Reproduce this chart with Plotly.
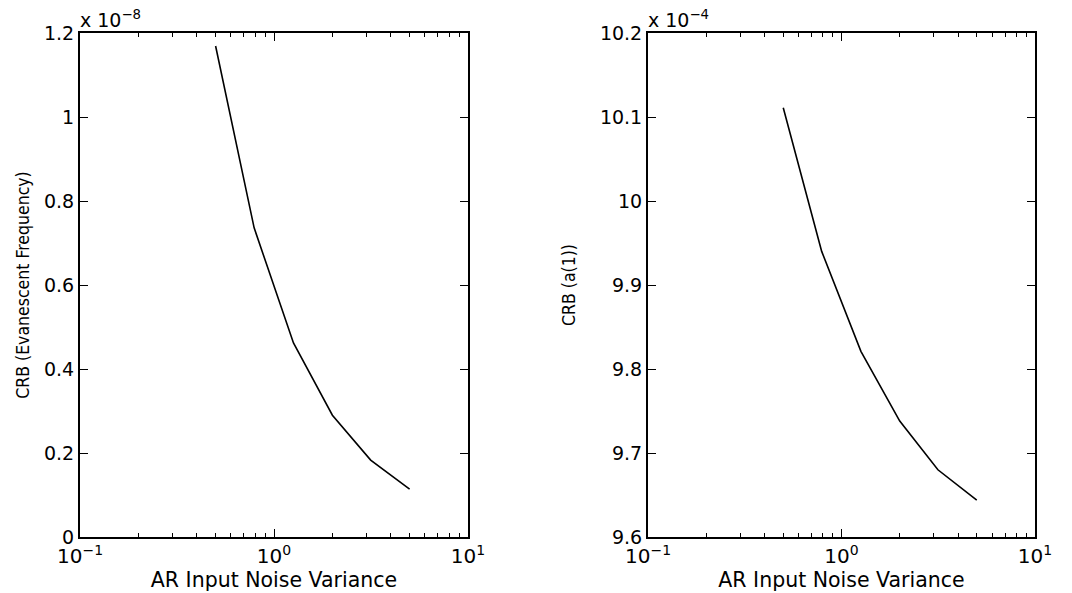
import plotly.graph_objects as go

noise_var = [0.5, 0.79, 1.26, 2.0, 3.15, 5.0]
crb_freq = [1.169, 0.736, 0.462, 0.29, 0.183, 0.114]   # x 1e-8
crb_a1 = [10.111, 9.94, 9.821, 9.738, 9.68, 9.644]     # x 1e-4

xticks = [0.1, 1, 10]
xticktext = ["10<sup>\u22121</sup>", "10<sup>0</sup>", "10<sup>1</sup>"]
minor_x = [m * d for d in (0.1, 1) for m in range(2, 10)]
left_yticks = [0, 0.2, 0.4, 0.6, 0.8, 1.0, 1.2]
left_yticktext = ["0", "0.2", "0.4", "0.6", "0.8", "1", "1.2"]
right_yticks = [9.6, 9.7, 9.8, 9.9, 10.0, 10.1, 10.2]
right_yticktext = ["9.6", "9.7", "9.8", "9.9", "10", "10.1", "10.2"]

# page has an 8px body margin, so the figure is offset by 8px
OFF = 8
W, H = 1072 - OFF, 593 - OFF
ML, MR, MT, MB = 80 - OFF, 1072 - 1035, 33 - OFF, 593 - 537
PW = W - ML - MR
font = "DejaVu Sans, Liberation Sans, Arial, sans-serif"
narrow = "DejaVu Sans Condensed, Liberation Sans Narrow, Liberation Sans, Arial, sans-serif"

fig = go.Figure()
fig.add_trace(go.Scatter(x=noise_var, y=crb_freq, mode="lines",
                         line=dict(color="black", width=1.6),
                         xaxis="x", yaxis="y", showlegend=False))
fig.add_trace(go.Scatter(x=noise_var, y=crb_a1, mode="lines",
                         line=dict(color="black", width=1.6),
                         xaxis="x2", yaxis="y2", showlegend=False))

def xaxis(dom, anchor):
    return dict(type="log", domain=dom, anchor=anchor, range=[-1, 1],
                automargin=False,
                tickvals=xticks, ticktext=xticktext, ticks="inside", ticklen=8,
                tickcolor="black", tickwidth=1.2,
                showline=True, linecolor="black", linewidth=2, mirror="ticks",
                showgrid=False, zeroline=False,
                tickfont=dict(family=font, size=20, color="black"),
                minor=dict(tickvals=minor_x, ticks="inside", ticklen=4,
                           tickcolor="black", tickwidth=1, showgrid=False),
                title=dict(text="AR Input Noise Variance",
                           font=dict(family=font, size=20.5, color="black"),
                           standoff=3))

def yaxis(rng, tv, tt, anchor, title, standoff):
    return dict(domain=[0, 1], anchor=anchor, range=rng, automargin=False,
                tickvals=tv, ticktext=tt, ticks="inside", ticklen=8,
                tickcolor="black", tickwidth=1.2,
                showline=True, linecolor="black", linewidth=2, mirror="ticks",
                showgrid=False, zeroline=False,
                tickfont=dict(family=font, size=19, color="black"),
                title=dict(text=title, font=dict(family=narrow, size=17.5, color="black"),
                           standoff=standoff))

fig.update_layout(
    width=W, height=H,
    margin=dict(l=ML, r=MR, t=MT, b=MB, autoexpand=False),
    paper_bgcolor="white", plot_bgcolor="white",
    xaxis=xaxis([0, (468 - 80) / PW], "y"),
    yaxis=yaxis([0, 1.2], left_yticks, left_yticktext, "x",
                "CRB (Evanescent Frequency)", 10),
    xaxis2=xaxis([(648 - 80) / PW, 1], "y2"),
    yaxis2=yaxis([9.6, 10.2], right_yticks, right_yticktext, "x2", "CRB (a(1))", 20),
    annotations=[
        dict(text="x 10<sup>\u22128</sup>", xref="x domain", yref="y domain",
             x=0, y=1, xanchor="left", yanchor="bottom", showarrow=False,
             xshift=-2, font=dict(family=font, size=19, color="black")),
        dict(text="x 10<sup>\u22124</sup>", xref="x2 domain", yref="y2 domain",
             x=0, y=1, xanchor="left", yanchor="bottom", showarrow=False,
             xshift=-2, font=dict(family=font, size=19, color="black")),
    ],
)

fig.write_html("out.html")
